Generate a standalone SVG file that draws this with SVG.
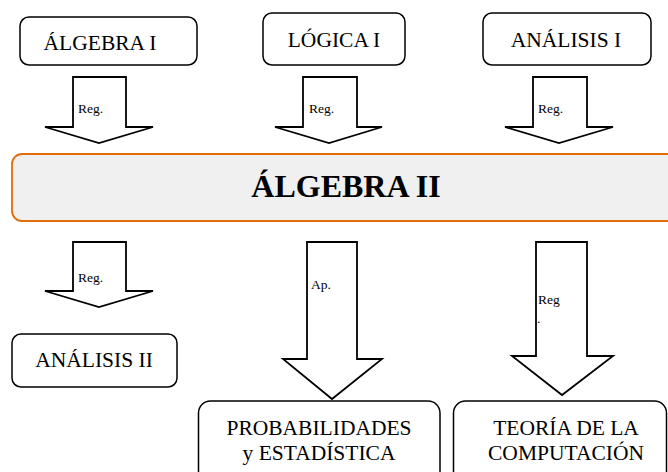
<svg xmlns="http://www.w3.org/2000/svg" width="668" height="472" viewBox="0 0 668 472">
<style>
.box{fill:#fff;stroke:#000;stroke-width:1.5}
.main{fill:#f0f0f0;stroke:#e36c0a;stroke-width:1.8}
.arr{fill:#fff;stroke:#000;stroke-width:1.8;stroke-linejoin:miter}
.t{font-family:"Liberation Serif","Times New Roman",serif;font-size:21.5px;fill:#000;text-anchor:middle}
.lbl{font-family:"Liberation Serif","Times New Roman",serif;font-size:13.5px;fill:#000}
.big{font-family:"Liberation Serif","Times New Roman",serif;font-size:32px;font-weight:bold;fill:#000;text-anchor:middle}
</style>
<rect width="668" height="472" fill="#fff"/>
<g id="connectors">
  <g id="a1"><polygon class="arr" points="73,77 126,77 126,127 153,127 99,143 45,127 73,127"/><text class="lbl" x="78" y="113">Reg.</text></g>
  <g id="a2"><polygon class="arr" points="303,77 357,77 357,127 382,127 329,143 275,127 303,127"/><text class="lbl" x="309" y="113">Reg.</text></g>
  <g id="a3"><polygon class="arr" points="533,77 587,77 587,127 613,127 559,143 505,127 533,127"/><text class="lbl" x="538" y="113">Reg.</text></g>
  <g id="a4"><polygon class="arr" points="73,242 126,242 126,291 153,291 99,307 45,291 73,291"/><text class="lbl" x="78" y="282">Reg.</text></g>
  <g id="a5"><polygon class="arr" points="307,242 357,242 357,359 382,359 332,399 283,359 307,359"/><text class="lbl" x="311" y="289">Ap.</text></g>
  <g id="a6"><polygon class="arr" points="536,242 587,242 587,356 613,356 562,395 512,356 536,356"/><text class="lbl" x="538" y="304">Reg</text><text class="lbl" x="537" y="323">.</text></g>
</g>
<g id="algebra1"><rect class="box" x="20" y="17" width="177" height="48" rx="9"/><text class="t" x="100" y="50">ÁLGEBRA I</text></g>
<g id="logica1"><rect class="box" x="263" y="13" width="142" height="52" rx="9"/><text class="t" x="334" y="47">LÓGICA I</text></g>
<g id="analisis1"><rect class="box" x="483" y="13" width="168" height="52" rx="9"/><text class="t" x="566" y="47">ANÁLISIS I</text></g>
<g id="algebra2"><rect class="main" x="12" y="154" width="670" height="67" rx="10"/><text class="big" x="346" y="197">ÁLGEBRA II</text></g>
<g id="analisis2"><rect class="box" x="12" y="334" width="165" height="53" rx="9"/><text class="t" x="94" y="367">ANÁLISIS II</text></g>
<g id="probabilidades"><rect class="box" x="198.5" y="401" width="241.5" height="85" rx="12"/><text class="t" x="319" y="435">PROBABILIDADES</text><text class="t" x="319" y="460">y ESTADÍSTICA</text></g>
<g id="teoria"><rect class="box" x="453.5" y="401" width="213" height="85" rx="12"/><text class="t" x="566" y="435">TEORÍA DE LA</text><text class="t" x="566" y="460">COMPUTACIÓN</text></g>
</svg>
